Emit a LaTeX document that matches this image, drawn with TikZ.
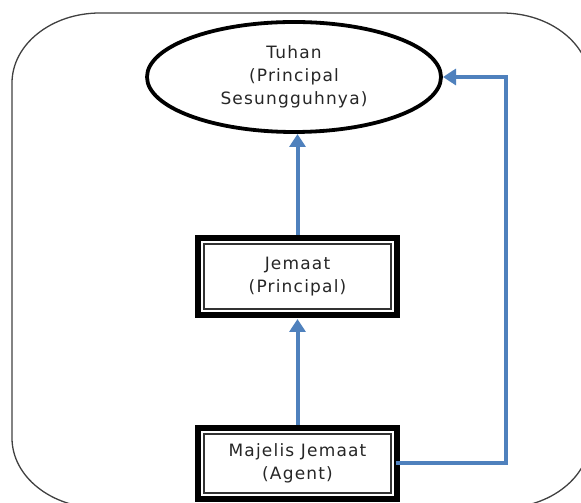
\documentclass[tikz,border=0pt]{standalone}
\usepackage{fontspec}
\usetikzlibrary{shapes.geometric,arrows.meta}
\newfontfamily\lblfont{DejaVu Sans}[LetterSpace=7]
\definecolor{arrowblue}{RGB}{79,129,189}
\begin{document}
\begin{tikzpicture}[x=1pt,y=1pt,
  lbl/.style={font=\lblfont\fontsize{17}{23}\selectfont, text=black!85, align=center},
  ellnode/.style={lbl, draw=black, ellipse, line width=3.8pt, outer sep=0pt, minimum width=294pt, minimum height=110pt, inner sep=0pt},
  boxnode/.style={lbl, draw=black, rectangle, line width=6pt, outer sep=0pt, minimum width=199pt, inner sep=0pt},
  innerline/.style={draw=black!80, line width=1.2pt},
  conn/.style={draw=arrowblue, line width=4pt, -{Triangle[width=16pt,length=13pt]}},
  frame/.style={draw=black!75, line width=1.3pt}]
\useasboundingbox (0,0) rectangle (581,503);
\begin{scope}
\clip (0,0) rectangle (581,503);
\draw[frame] (12,420) arc[start angle=180, end angle=90, x radius=88, y radius=70]
  -- (502,490) arc[start angle=90, end angle=0, x radius=88, y radius=70]
  -- (590,65) arc[start angle=0, end angle=-90, x radius=88, y radius=70]
  -- (100,-5) arc[start angle=-90, end angle=-180, x radius=88, y radius=70]
  -- cycle;
\end{scope}
\node[ellnode] (tuhan) at (294,426) {Tuhan\\(Principal\\Sesungguhnya)};
\node[boxnode, minimum height=77pt] (jemaat) at (297.5,226.5) {Jemaat\\(Principal)};
\node[boxnode, minimum height=71pt] (majelis) at (297.5,39.5) {Majelis Jemaat\\(Agent)};
\draw[innerline] ([shift={(6,-6)}]jemaat.north west) rectangle ([shift={(-6,6)}]jemaat.south east);
\draw[innerline] ([shift={(6,-6)}]majelis.north west) rectangle ([shift={(-6,6)}]majelis.south east);
\coordinate (rt) at (506,426);
\draw[conn, shorten <=3pt, shorten >=2pt] (jemaat.north) -- (jemaat.north |- tuhan.south);
\draw[conn, shorten <=3pt, shorten >=4pt] (majelis.north) -- (jemaat.south);
\draw[conn, shorten <=-1pt, shorten >=2pt] (majelis.east) -| (rt) -- (tuhan.east);
\end{tikzpicture}
\end{document}
